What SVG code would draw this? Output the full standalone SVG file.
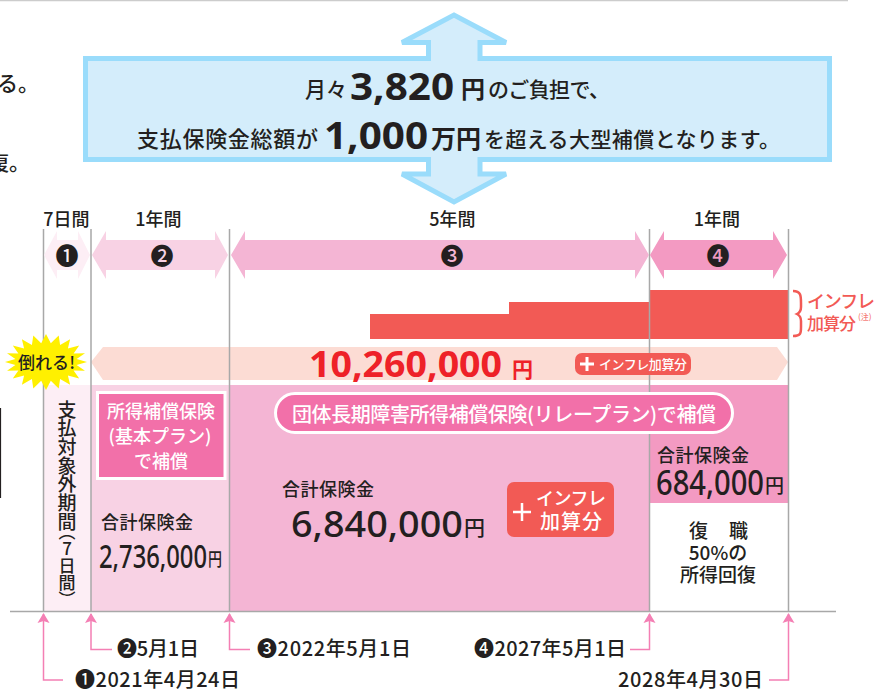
<svg xmlns="http://www.w3.org/2000/svg" width="875" height="691" viewBox="0 0 875 691">
<style>
text{font-family:"Noto Sans CJK JP","Noto Sans",sans-serif;fill:#231f20;font-weight:500}
.num{font-family:"Noto Sans","Noto Sans CJK JP",sans-serif;font-weight:500}
.b{font-family:"Noto Sans","Noto Sans CJK JP",sans-serif;font-weight:700}
.bj{font-weight:700}
.w{fill:#fff}
.r{fill:#f25a55}
.m{text-anchor:middle}
.d{font-size:20px}
.vt{writing-mode:vertical-rl;text-orientation:upright}
.v{stroke:#a8a8a8;stroke-width:1.5;fill:none}
.c{stroke:#f47fb4;stroke-width:1.5;fill:none;marker-start:url(#up)}
</style>
<defs><marker id="up" markerUnits="userSpaceOnUse" markerWidth="14" markerHeight="12" refX="6" refY="1" orient="0" overflow="visible"><path d="M0 10 L6 0 L12 10 L6 8Z" fill="#f47fb4"/></marker></defs>
<g id="page-edges">
<path d="M0 .5H848" stroke="#ccc" stroke-width="1.5"/>
<path d="M.5 408V498" stroke="#231f20" stroke-width="1.2"/>
<text x="-3" y="91" font-size="21">る。</text>
<text x="-12" y="170" font-size="21">復。</text>
</g>
<g id="summary">
<path d="M85.500 58.500H428.500V42.500H402L454 15 506 42.500H480V58.500H829.500V159.500H480V174H506L454 202 402 174H428.500V159.500H85.500Z" fill="#d4edfb" stroke="#9adcfb" stroke-width="5"/>
<text x="305" y="97" font-size="21" textLength="42">月々</text>
<text x="350" y="100" font-size="37" class="b" textLength="104" lengthAdjust="spacingAndGlyphs">3,820</text>
<text x="461" y="98" font-size="24" class="bj">円</text>
<text x="488" y="97" font-size="21" textLength="122">のご負担で、</text>
<text x="137" y="147" font-size="22" textLength="181">支払保険金総額が</text>
<text x="324" y="149" font-size="37" class="b" textLength="104" lengthAdjust="spacingAndGlyphs">1,000</text>
<text x="431" y="148" font-size="25" class="bj" textLength="50">万円</text>
<text x="484" y="147" font-size="21" textLength="296">を超える大型補償となります。</text>
</g>
<g id="panels">
<rect x="44" y="385" width="47" height="226" fill="#fdeef5"/>
<rect x="91" y="385" width="138" height="226" fill="#f8d2e4"/>
<rect x="229" y="385" width="421" height="226" fill="#f4b5d4"/>
<rect x="650" y="385" width="138" height="118" fill="#f39ac2"/>
</g>
<g id="bars">
<rect x="370" y="314" width="139" height="25" class="r"/>
<rect x="509" y="302" width="141" height="37" class="r"/>
<rect x="650" y="290" width="138" height="49" class="r"/>
</g>
<g id="total-band">
<path d="M91 362L103 347H777L788 362 777 380H103Z" fill="#fcdcd4"/>
</g>
<g id="guides">
<path class="v" d="M43.500 229V611M91 229V611M229.500 229V611M649.500 229V611M788.500 229V611"/>
<path d="M10 611.500H836" stroke="#a8a8a8" stroke-width="1.500"/>
</g>
<g id="period-1">
<path d="M44 255L57 231V240H78V231L90 255 78 279V270H57V279Z" fill="#fdeef5"/>
<text x="67" y="264" font-size="23" class="m">❶</text>
<text x="66.500" y="226" font-size="18" class="m">7日間</text>
</g>
<g id="period-2">
<path d="M92 255L106 231V240H215V231L228 255 215 279V270H106V279Z" fill="#f8d2e4"/>
<text x="162" y="264" font-size="23" class="m">❷</text>
<text x="158.500" y="226" font-size="18" class="m">1年間</text>
</g>
<g id="period-3">
<path d="M231 255L245 231V240H635V231L649 255 635 279V270H245V279Z" fill="#f4b5d4"/>
<text x="452" y="264" font-size="23" class="m">❸</text>
<text x="452.500" y="226" font-size="18" class="m">5年間</text>
</g>
<g id="period-4">
<path d="M650 255L664 231V240H773V231L787 255 773 279V270H664V279Z" fill="#f39ac2"/>
<text x="718" y="264" font-size="23" class="m">❹</text>
<text x="717" y="226" font-size="18" class="m">1年間</text>
</g>
<g id="inflation-label">
<path d="M793 291C801 291 801 296 801 303V307C801 311 799 313 797 314 799 315 801 317 801 321V327C801 333 801 336 793 336" fill="none" stroke="#f25a55" stroke-width="2.500"/>
<text x="807" y="308" font-size="18" class="r" textLength="68">インフレ</text>
<text x="807" y="330" font-size="17" class="r" textLength="49">加算分</text>
<text x="858" y="320" font-size="8" fill-opacity=".8" class="r">(注)</text>
</g>
<g id="collapse">
<path d="M87 362L76.600 365 85 370.700 73.600 370.600 79.200 378.500 67.900 375.400 70.100 384.700 60.100 378.900 58.700 388.600 50.800 380.800 46 390 41.200 380.800 33.300 388.600 31.900 378.900 21.900 384.700 24.100 375.400 12.800 378.500 18.400 370.600 7 370.700 15.400 365 5 362 15.400 359 7 353.300 18.400 353.400 12.800 345.500 24.100 348.600 21.900 339.300 31.900 345.100 33.300 335.400 41.200 343.200 46 334 50.800 343.200 58.700 335.400 60.100 345.100 70.100 339.300 67.900 348.600 79.200 345.500 73.600 353.400 85 353.300 76.600 359Z" fill="#fff000"/>
<text x="18" y="369" font-size="17" textLength="57">倒れる!</text>
</g>
<g id="total">
<text x="309" y="377" font-size="36" class="b" fill="#ee2128" style="fill:#ee2128" textLength="193" lengthAdjust="spacingAndGlyphs">10,260,000</text>
<text x="512" y="377" font-size="21" class="bj" style="fill:#ee2128">円</text>
<rect x="575" y="353" width="116" height="22" rx="7" class="r"/>
<path d="M580 364H594M587 357V371" stroke="#fff" stroke-width="3"/>
<text x="599" y="369" font-size="13" class="w" textLength="88">インフレ加算分</text>
</g>
<g id="exempt-label">
<text x="67" y="400" font-size="19" class="vt" textLength="131">支払対象外期間</text>
<text x="67" y="523" font-size="17" class="vt">（7日間）</text>
</g>
<g id="plan-basic">
<rect x="97.500" y="392.500" width="127.500" height="86" fill="#f270a9" stroke="#fff" stroke-width="3"/>
<text x="161" y="418" font-size="18" class="w m">所得補償保険</text>
<text x="160" y="443" font-size="18" class="w m">(基本プラン)</text>
<text x="161" y="468" font-size="18" class="w m">で補償</text>
</g>
<g id="amount-basic">
<text x="101" y="529" font-size="18" textLength="92">合計保険金</text>
<text x="99" y="568" font-size="33" class="num" textLength="108" lengthAdjust="spacingAndGlyphs">2,736,000</text>
<text x="208" y="566" font-size="18" textLength="14" lengthAdjust="spacingAndGlyphs">円</text>
</g>
<g id="plan-relay">
<rect x="275.500" y="393.500" width="457" height="39" rx="19.500" fill="#f270a9" stroke="#fff" stroke-width="3"/>
<text x="292" y="422" font-size="20" class="w" textLength="424">団体長期障害所得補償保険(リレープラン)で補償</text>
</g>
<g id="amount-relay">
<text x="282" y="496" font-size="18" textLength="92">合計保険金</text>
<text x="291" y="537" font-size="36" class="num" textLength="172" lengthAdjust="spacingAndGlyphs">6,840,000</text>
<text x="464" y="535" font-size="21">円</text>
<rect x="507" y="482" width="107" height="55" rx="7" class="r"/>
<path d="M513 512H531M522 503V521" stroke="#fff" stroke-width="2.500"/>
<text x="536" y="505" font-size="18" class="w" textLength="70">インフレ</text>
<text x="540" y="529" font-size="20" class="w" textLength="62">加算分</text>
</g>
<g id="amount-return">
<text x="657" y="462" font-size="18" textLength="92">合計保険金</text>
<text x="656" y="495" font-size="34" class="num" textLength="108" lengthAdjust="spacingAndGlyphs">684,000</text>
<text x="765" y="493" font-size="19" textLength="18">円</text>
<text x="689" y="538" font-size="19">復</text>
<text x="729" y="538" font-size="19">職</text>
<text x="718" y="560" font-size="19" class="m">50%の</text>
<text x="718" y="582" font-size="19" class="m">所得回復</text>
</g>
<g id="connectors">
<path class="c" d="M43.500 614V680H63"/>
<path class="c" d="M91 614V649.500H112"/>
<path class="c" d="M229.500 614V649.500H250"/>
<path class="c" d="M649.500 614V649.500H630"/>
<path class="c" d="M788.500 614V680H769"/>
</g>
<g id="dates">
<text x="117" y="656" class="d" textLength="82">❷5月1日</text>
<text x="257" y="656" class="d" textLength="154">❸2022年5月1日</text>
<text x="474" y="656" class="d" textLength="152">❹2027年5月1日</text>
<text x="75" y="687" class="d" textLength="165">❶2021年4月24日</text>
<text x="618" y="687" class="d" textLength="145">2028年4月30日</text>
</g>
</svg>
